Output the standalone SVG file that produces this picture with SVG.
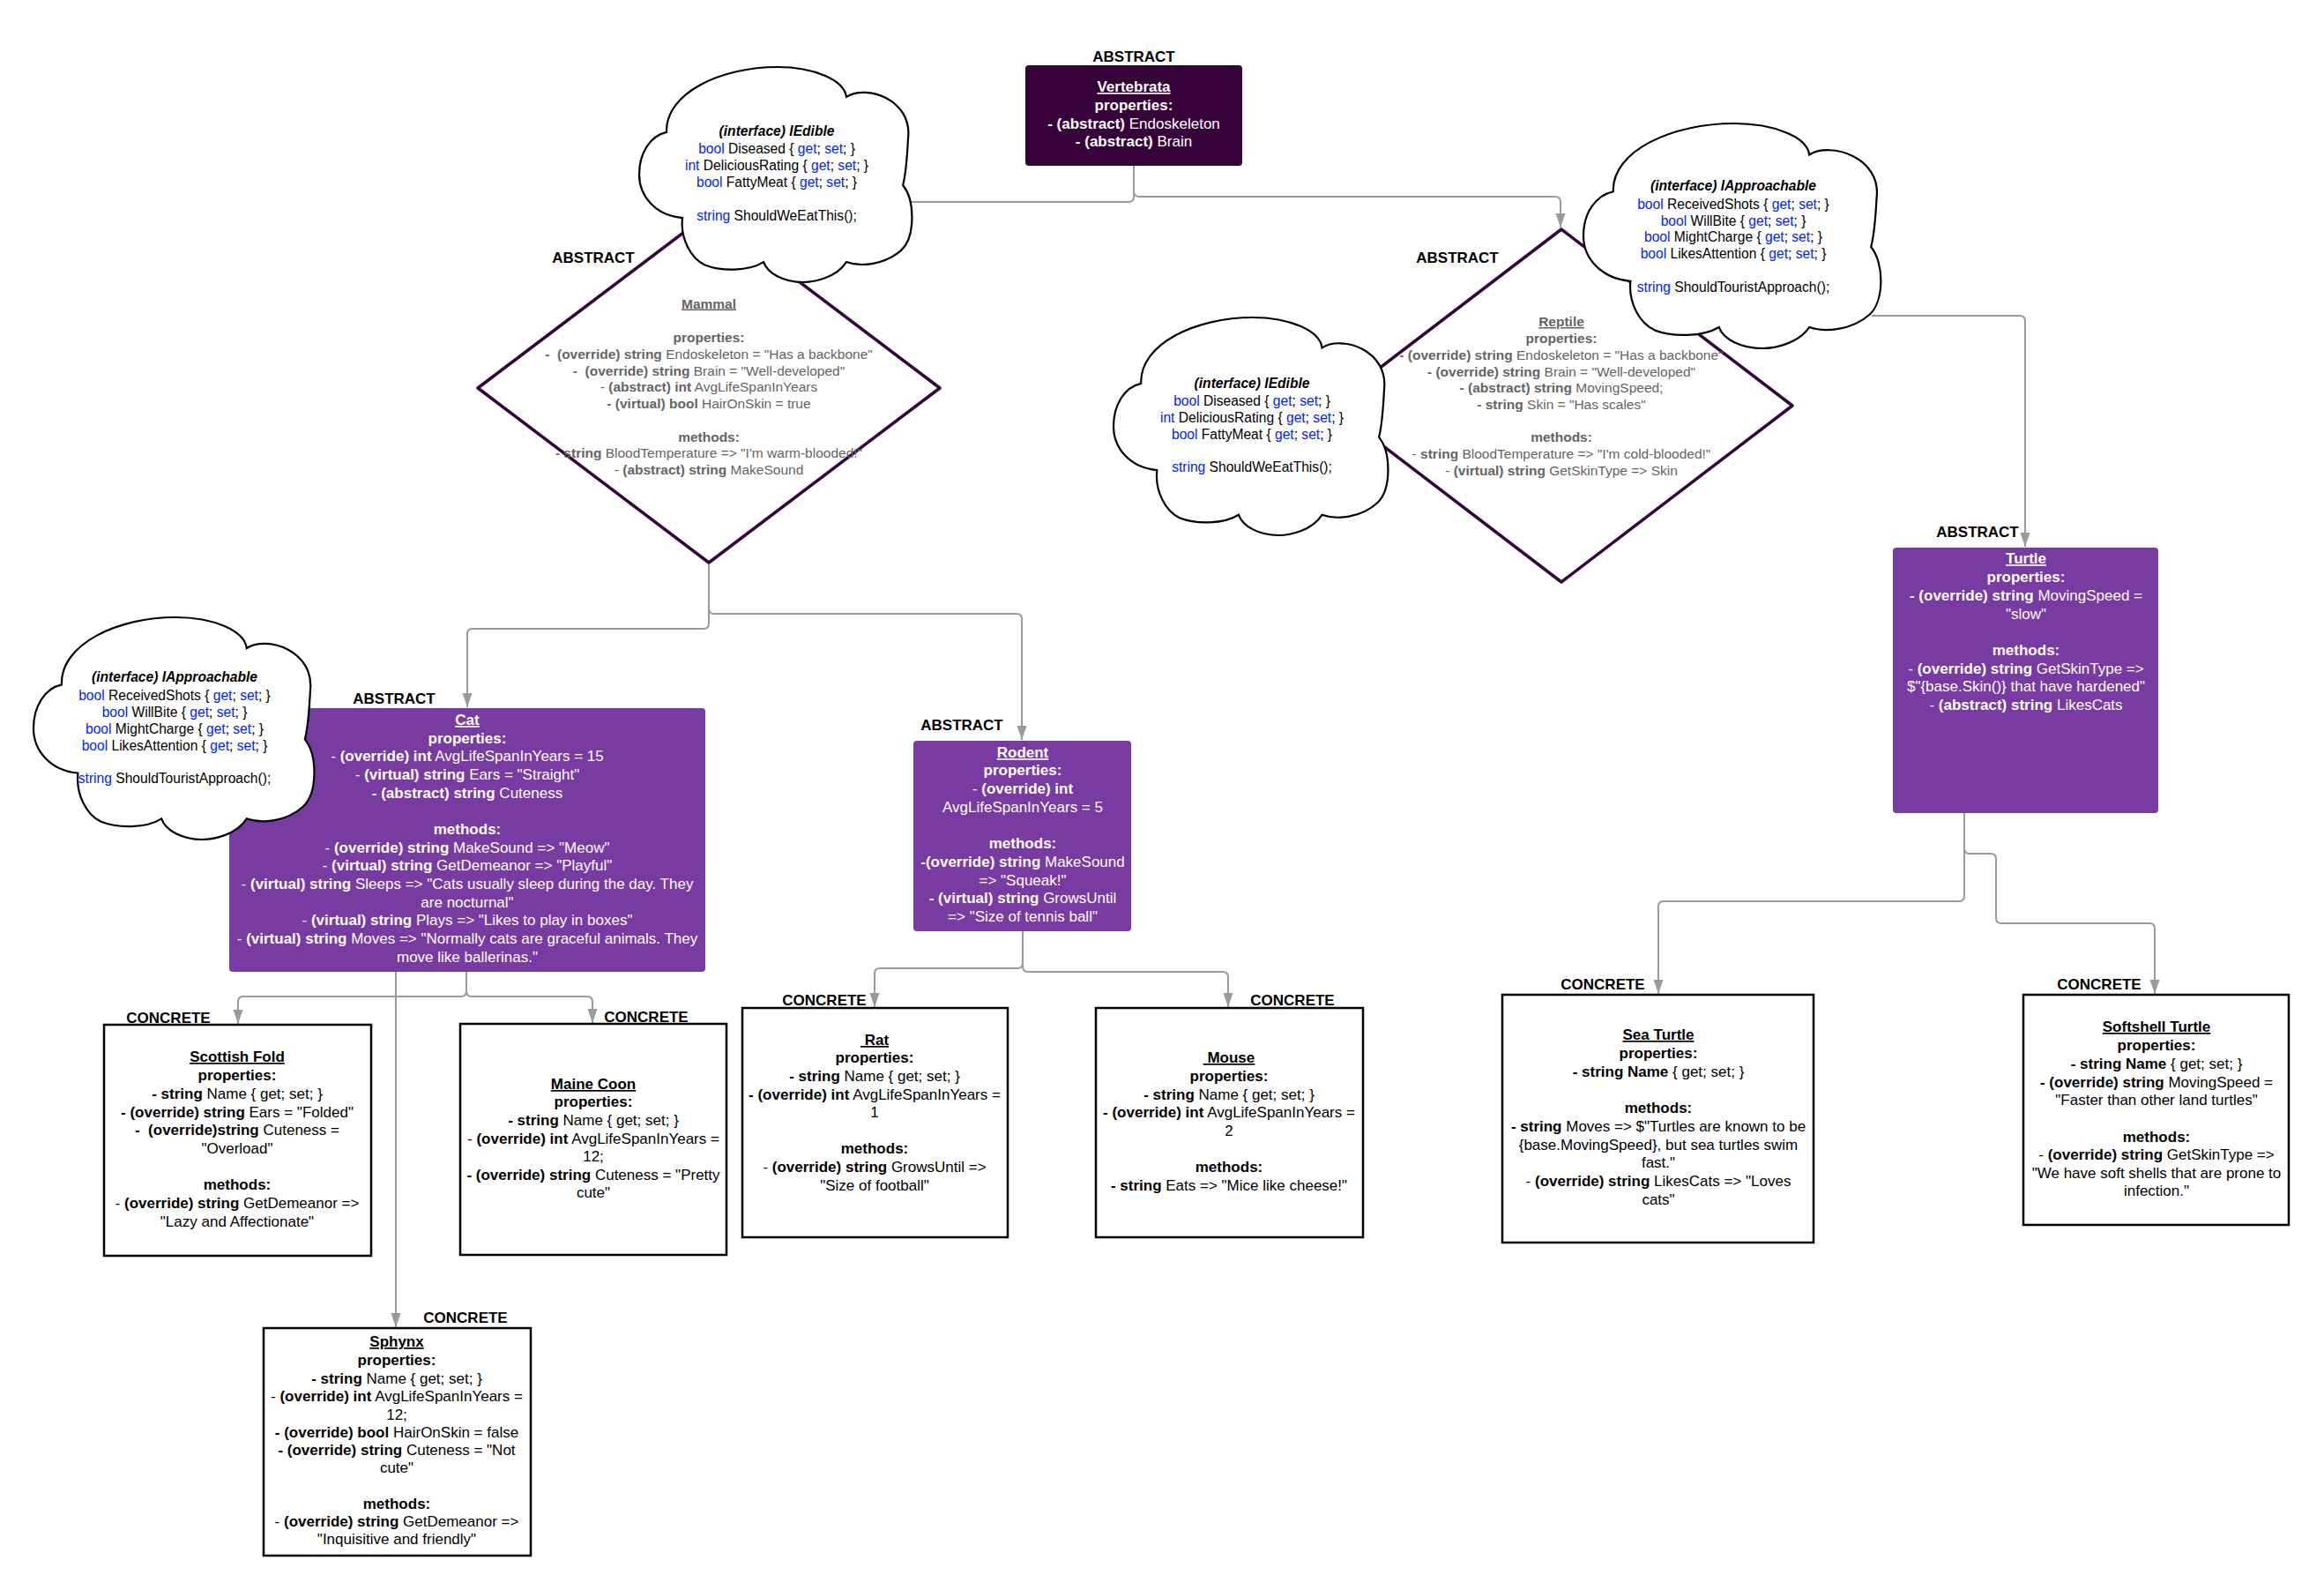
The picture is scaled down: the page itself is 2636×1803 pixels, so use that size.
<svg xmlns="http://www.w3.org/2000/svg" width="2636" height="1803" viewBox="0 0 2636 1803">
  <style>
    text { font-family: 'Liberation Sans', Arial, sans-serif; text-anchor: middle; white-space: pre; }
    .s17 { font-size: 17px; }
    .s15 { font-size: 15.5px; }
    .s16 { font-size: 15.6px; }
    .b { font-weight: bold; }
    .i { font-style: italic; }
    .u { text-decoration: underline; }
    .w { fill: #ffffff; }
    .k { fill: #000000; }
    .g { fill: #646464; }
    .bl { fill: #0022ff; }
    .lbl { font-size: 17px; font-weight: bold; fill: #000; }
    .diamond { fill: #ffffff; stroke: #33063a; stroke-width: 3.5; stroke-linejoin: round; }
    .abox { fill: #773ba2; }
    .cbox { fill: #ffffff; stroke: #000; stroke-width: 2.5; }
    .cloud { fill: #ffffff; stroke: #000; stroke-width: 2.2; }
    .conn { fill: none; stroke: #9a9a9a; stroke-width: 2; marker-end: url(#arrow); }
    .conn0 { fill: none; stroke: #9a9a9a; stroke-width: 2; }
  </style>
  <defs>
    <marker id="arrow" markerUnits="userSpaceOnUse" markerWidth="16" markerHeight="12" refX="16" refY="6" orient="auto">
      <path d="M0,0.5 L16,6 L0,11.5 Z" fill="#9a9a9a"/>
    </marker>
    <!-- cloud outline in a 1000x1000 box, scaled per node -->
    <path id="cloudShape" vector-effect="non-scaling-stroke" d="M100,303 C95,120 300,0 506,0 C640,0 750,60 758,139 C830,80 1000,150 984,330 C980,430 975,500 965,549 C1010,620 1010,790 960,850 C900,920 810,930 758,906 C720,980 640,1000 600,1000 C530,1000 470,960 455,906 C400,950 300,950 240,920 C190,890 150,800 158,701 C60,690 0,600 0,500 C0,400 40,320 100,303 Z"/>
  </defs>
  <rect width="2636" height="1803" fill="#ffffff"/>

  <!-- abstract diamonds -->
  <g id="mammal">
    <polygon class="diamond" points="804,242 1066,440 804,638 542,440"/>
  </g>
  <g id="reptile">
    <polygon class="diamond" points="1771,260 2033,460 1771,660 1509,460"/>
  </g>

  <!-- connectors -->
  <g id="connectors">
    <path class="conn0" d="M1286,187 V223 Q1286,229 1280,229 H810 Q804,229 804,235 V242"/>
    <path class="conn" d="M1286,187 V217 Q1286,223 1292,223 H1764 Q1770,223 1770,229 V258"/>
    <path class="conn" d="M804,640 V707 Q804,713 798,713 H536 Q530,713 530,719 V802"/>
    <path class="conn" d="M804,640 V690 Q804,696 810,696 H1153 Q1159,696 1159,702 V839"/>
    <path class="conn" d="M2123,358 H2291 Q2297,358 2297,364 V620"/>
    <path class="conn" d="M529,1102 V1124 Q529,1130 523,1130 H276 Q270,1130 270,1136 V1161"/>
    <path class="conn" d="M529,1102 V1124 Q529,1130 535,1130 H666 Q672,1130 672,1136 V1160"/>
    <path class="conn" d="M449,1102 V1505"/>
    <path class="conn" d="M1160,1056 V1092 Q1160,1098 1154,1098 H998 Q992,1098 992,1104 V1142"/>
    <path class="conn" d="M1160,1056 V1096 Q1160,1102 1166,1102 H1387 Q1393,1102 1393,1108 V1142"/>
    <path class="conn" d="M2228,922 V1016 Q2228,1022 2222,1022 H1887 Q1881,1022 1881,1028 V1127"/>
    <path class="conn" d="M2228,922 V962 Q2228,968 2234,968 H2258 Q2264,968 2264,974 V1041 Q2264,1047 2270,1047 H2438 Q2444,1047 2444,1053 V1127"/>
  </g>

  <!-- diamond texts -->
  <g id="mammal-text" class="s15 g">
    <text x="804" y="349.5" class="b u">Mammal</text>
    <text x="804" y="387.5" class="b">properties:</text>
    <text x="804" y="406.5"><tspan class="b">-  (override) string</tspan> Endoskeleton = "Has a backbone"</text>
    <text x="804" y="425.5"><tspan class="b">-  (override) string</tspan> Brain = "Well-developed"</text>
    <text x="804" y="443.5">- <tspan class="b">(abstract) int</tspan> AvgLifeSpanInYears</text>
    <text x="804" y="462.5"><tspan class="b">- (virtual) bool</tspan> HairOnSkin = true</text>
    <text x="804" y="500.5" class="b">methods:</text>
    <text x="804" y="518.5"><tspan class="b">- string</tspan> BloodTemperature =&gt; "I'm warm-blooded!"</text>
    <text x="804" y="537.5">- <tspan class="b">(abstract) string</tspan> MakeSound</text>
  </g>
  <g id="reptile-text" class="s15 g">
    <text x="1771" y="370" class="b u">Reptile</text>
    <text x="1771" y="389" class="b">properties:</text>
    <text x="1771" y="408"><tspan class="b">- (override) string</tspan> Endoskeleton = "Has a backbone"</text>
    <text x="1771" y="426.5"><tspan class="b">- (override) string</tspan> Brain = "Well-developed"</text>
    <text x="1771" y="445"><tspan class="b">- (abstract) string</tspan> MovingSpeed;</text>
    <text x="1771" y="464"><tspan class="b">- string</tspan> Skin = "Has scales"</text>
    <text x="1771" y="501" class="b">methods:</text>
    <text x="1771" y="520">- <tspan class="b">string</tspan> BloodTemperature =&gt; "I'm cold-blooded!"</text>
    <text x="1771" y="538.5">- <tspan class="b">(virtual) string</tspan> GetSkinType =&gt; Skin</text>
  </g>

  <!-- Vertebrata -->
  <g id="vertebrata" class="s17 w">
    <rect x="1163" y="74" width="246" height="114" rx="4" fill="#360038"/>
    <text x="1286" y="104" class="b u">Vertebrata</text>
    <text x="1286" y="125" class="b">properties:</text>
    <text x="1286" y="146"><tspan class="b">- (abstract)</tspan> Endoskeleton</text>
    <text x="1286" y="166"><tspan class="b">- (abstract)</tspan> Brain</text>
  </g>

  <!-- Cat -->
  <g id="cat" class="s17 w">
    <rect class="abox" x="260" y="803" width="540" height="299" rx="4"/>
    <text x="530" y="822" class="b u">Cat</text>
    <text x="530" y="843" class="b">properties:</text>
    <text x="530" y="863">- <tspan class="b">(override) int</tspan> AvgLifeSpanInYears = 15</text>
    <text x="530" y="884">- <tspan class="b">(virtual) string</tspan> Ears = "Straight"</text>
    <text x="530" y="905"><tspan class="b">- (abstract) string</tspan> Cuteness</text>
    <text x="530" y="946" class="b">methods:</text>
    <text x="530" y="967">- <tspan class="b">(override) string</tspan> MakeSound =&gt; "Meow"</text>
    <text x="530" y="987">- <tspan class="b">(virtual) string</tspan> GetDemeanor =&gt; "Playful"</text>
    <text x="530" y="1008">- <tspan class="b">(virtual) string</tspan> Sleeps =&gt; "Cats usually sleep during the day. They</text>
    <text x="530" y="1029">are nocturnal"</text>
    <text x="530" y="1049">- <tspan class="b">(virtual) string</tspan> Plays =&gt; "Likes to play in boxes"</text>
    <text x="530" y="1070">- <tspan class="b">(virtual) string</tspan> Moves =&gt; "Normally cats are graceful animals. They</text>
    <text x="530" y="1091">move like ballerinas."</text>
  </g>

  <!-- Rodent -->
  <g id="rodent" class="s17 w">
    <rect class="abox" x="1036" y="840" width="247" height="216" rx="4"/>
    <text x="1160" y="859" class="b u">Rodent</text>
    <text x="1160" y="879" class="b">properties:</text>
    <text x="1160" y="900">- <tspan class="b">(override) int</tspan></text>
    <text x="1160" y="921">AvgLifeSpanInYears = 5</text>
    <text x="1160" y="962" class="b">methods:</text>
    <text x="1160" y="983"><tspan class="b">-(override) string</tspan> MakeSound</text>
    <text x="1160" y="1004">=&gt; "Squeak!"</text>
    <text x="1160" y="1024"><tspan class="b">- (virtual) string</tspan> GrowsUntil</text>
    <text x="1160" y="1045">=&gt; "Size of tennis ball"</text>
  </g>

  <!-- Turtle -->
  <g id="turtle" class="s17 w">
    <rect class="abox" x="2147" y="621" width="301" height="301" rx="4"/>
    <text x="2298" y="639" class="b u">Turtle</text>
    <text x="2298" y="660" class="b">properties:</text>
    <text x="2298" y="681"><tspan class="b">- (override) string</tspan> MovingSpeed =</text>
    <text x="2298" y="702">"slow"</text>
    <text x="2298" y="743" class="b">methods:</text>
    <text x="2298" y="764">- <tspan class="b">(override) string</tspan> GetSkinType =&gt;</text>
    <text x="2298" y="784">$"{base.Skin()} that have hardened"</text>
    <text x="2298" y="805">- <tspan class="b">(abstract) string</tspan> LikesCats</text>
  </g>

  <!-- concrete classes -->
  <g id="scottish-fold" class="s17 k">
    <rect class="cbox" x="118" y="1162" width="303" height="262"/>
    <text x="269" y="1204" class="b u">Scottish Fold</text>
    <text x="269" y="1225" class="b">properties:</text>
    <text x="269" y="1246"><tspan class="b">- string</tspan> Name { get; set; }</text>
    <text x="269" y="1267"><tspan class="b">- (override) string</tspan> Ears = "Folded"</text>
    <text x="269" y="1287"><tspan class="b">-  (override)string</tspan> Cuteness =</text>
    <text x="269" y="1308">"Overload"</text>
    <text x="269" y="1349" class="b">methods:</text>
    <text x="269" y="1370">- <tspan class="b">(override) string</tspan> GetDemeanor =&gt;</text>
    <text x="269" y="1391">"Lazy and Affectionate"</text>
  </g>
  <g id="maine-coon" class="s17 k">
    <rect class="cbox" x="522" y="1161" width="302" height="262"/>
    <text x="673" y="1235" class="b u">Maine Coon</text>
    <text x="673" y="1255" class="b">properties:</text>
    <text x="673" y="1276"><tspan class="b">- string</tspan> Name { get; set; }</text>
    <text x="673" y="1297">- <tspan class="b">(override) int</tspan> AvgLifeSpanInYears =</text>
    <text x="673" y="1317">12;</text>
    <text x="673" y="1338"><tspan class="b">- (override) string</tspan> Cuteness = "Pretty</text>
    <text x="673" y="1358">cute"</text>
  </g>
  <g id="sphynx" class="s17 k">
    <rect class="cbox" x="299" y="1506" width="303" height="258"/>
    <text x="450" y="1527" class="b u">Sphynx</text>
    <text x="450" y="1548" class="b">properties:</text>
    <text x="450" y="1569"><tspan class="b">- string</tspan> Name { get; set; }</text>
    <text x="450" y="1589">- <tspan class="b">(override) int</tspan> AvgLifeSpanInYears =</text>
    <text x="450" y="1610">12;</text>
    <text x="450" y="1630"><tspan class="b">- (override) bool</tspan> HairOnSkin = false</text>
    <text x="450" y="1650"><tspan class="b">- (override) string</tspan> Cuteness = "Not</text>
    <text x="450" y="1670">cute"</text>
    <text x="450" y="1711" class="b">methods:</text>
    <text x="450" y="1731">- <tspan class="b">(override) string</tspan> GetDemeanor =&gt;</text>
    <text x="450" y="1751">"Inquisitive and friendly"</text>
  </g>
  <g id="rat" class="s17 k">
    <rect class="cbox" x="842" y="1143" width="301" height="260"/>
    <text x="992" y="1185" class="b u"> Rat</text>
    <text x="992" y="1205" class="b">properties:</text>
    <text x="992" y="1226"><tspan class="b">- string</tspan> Name { get; set; }</text>
    <text x="992" y="1247"><tspan class="b">- (override) int</tspan> AvgLifeSpanInYears =</text>
    <text x="992" y="1267">1</text>
    <text x="992" y="1308" class="b">methods:</text>
    <text x="992" y="1329">- <tspan class="b">(override) string</tspan> GrowsUntil =&gt;</text>
    <text x="992" y="1350">"Size of football"</text>
  </g>
  <g id="mouse" class="s17 k">
    <rect class="cbox" x="1243" y="1143" width="303" height="260"/>
    <text x="1394" y="1205" class="b u"> Mouse</text>
    <text x="1394" y="1226" class="b">properties:</text>
    <text x="1394" y="1247"><tspan class="b">- string</tspan> Name { get; set; }</text>
    <text x="1394" y="1267"><tspan class="b">- (override) int</tspan> AvgLifeSpanInYears =</text>
    <text x="1394" y="1288">2</text>
    <text x="1394" y="1329" class="b">methods:</text>
    <text x="1394" y="1350"><tspan class="b">- string</tspan> Eats =&gt; "Mice like cheese!"</text>
  </g>
  <g id="sea-turtle" class="s17 k">
    <rect class="cbox" x="1704" y="1128" width="353" height="281"/>
    <text x="1881" y="1179" class="b u">Sea Turtle</text>
    <text x="1881" y="1200" class="b">properties:</text>
    <text x="1881" y="1221"><tspan class="b">- string Name</tspan> { get; set; }</text>
    <text x="1881" y="1262" class="b">methods:</text>
    <text x="1881" y="1283"><tspan class="b">- string</tspan> Moves =&gt; $"Turtles are known to be</text>
    <text x="1881" y="1304">{base.MovingSpeed}, but sea turtles swim</text>
    <text x="1881" y="1324">fast."</text>
    <text x="1881" y="1345">- <tspan class="b">(override) string</tspan> LikesCats =&gt; "Loves</text>
    <text x="1881" y="1366">cats"</text>
  </g>
  <g id="softshell-turtle" class="s17 k">
    <rect class="cbox" x="2295" y="1128" width="301" height="261"/>
    <text x="2446" y="1170" class="b u">Softshell Turtle</text>
    <text x="2446" y="1191" class="b">properties:</text>
    <text x="2446" y="1212"><tspan class="b">- string Name</tspan> { get; set; }</text>
    <text x="2446" y="1233"><tspan class="b">- (override) string</tspan> MovingSpeed =</text>
    <text x="2446" y="1253">"Faster than other land turtles"</text>
    <text x="2446" y="1295" class="b">methods:</text>
    <text x="2446" y="1315">- <tspan class="b">(override) string</tspan> GetSkinType =&gt;</text>
    <text x="2446" y="1336">"We have soft shells that are prone to</text>
    <text x="2446" y="1356">infection."</text>
  </g>

  <!-- interface clouds -->
  <g id="iedible-mammal" class="s16 k">
    <use href="#cloudShape" class="cloud" transform="translate(725,76) scale(0.31,0.244)"/>
    <text x="881" y="153.5" class="b i">(interface) IEdible</text>
    <text x="881" y="173.5"><tspan class="bl">bool</tspan> Diseased { <tspan class="bl">get</tspan>; <tspan class="bl">set</tspan>; }</text>
    <text x="881" y="192.5"><tspan class="bl">int</tspan> DeliciousRating { <tspan class="bl">get</tspan>; <tspan class="bl">set</tspan>; }</text>
    <text x="881" y="211.5"><tspan class="bl">bool</tspan> FattyMeat { <tspan class="bl">get</tspan>; <tspan class="bl">set</tspan>; }</text>
    <text x="881" y="249.5"><tspan class="bl">string</tspan> ShouldWeEatThis();</text>
  </g>
  <g id="iedible-reptile" class="s16 k">
    <use href="#cloudShape" class="cloud" transform="translate(1263,360) scale(0.312,0.247)"/>
    <text x="1420" y="439.5" class="b i">(interface) IEdible</text>
    <text x="1420" y="459.5"><tspan class="bl">bool</tspan> Diseased { <tspan class="bl">get</tspan>; <tspan class="bl">set</tspan>; }</text>
    <text x="1420" y="478.5"><tspan class="bl">int</tspan> DeliciousRating { <tspan class="bl">get</tspan>; <tspan class="bl">set</tspan>; }</text>
    <text x="1420" y="497.5"><tspan class="bl">bool</tspan> FattyMeat { <tspan class="bl">get</tspan>; <tspan class="bl">set</tspan>; }</text>
    <text x="1420" y="534.5"><tspan class="bl">string</tspan> ShouldWeEatThis();</text>
  </g>
  <g id="iapproachable-turtle" class="s16 k">
    <use href="#cloudShape" class="cloud" transform="translate(1796,140) scale(0.338,0.255)"/>
    <text x="1966" y="215.5" class="b i">(interface) IApproachable</text>
    <text x="1966" y="236.5"><tspan class="bl">bool</tspan> ReceivedShots { <tspan class="bl">get</tspan>; <tspan class="bl">set</tspan>; }</text>
    <text x="1966" y="255.5"><tspan class="bl">bool</tspan> WillBite { <tspan class="bl">get</tspan>; <tspan class="bl">set</tspan>; }</text>
    <text x="1966" y="273.5"><tspan class="bl">bool</tspan> MightCharge { <tspan class="bl">get</tspan>; <tspan class="bl">set</tspan>; }</text>
    <text x="1966" y="292.5"><tspan class="bl">bool</tspan> LikesAttention { <tspan class="bl">get</tspan>; <tspan class="bl">set</tspan>; }</text>
    <text x="1966" y="330.5"><tspan class="bl">string</tspan> ShouldTouristApproach();</text>
  </g>
  <g id="iapproachable-cat" class="s16 k">
    <use href="#cloudShape" class="cloud" transform="translate(38,700) scale(0.319,0.252)"/>
    <text x="198" y="772.5" class="b i">(interface) IApproachable</text>
    <text x="198" y="793.5"><tspan class="bl">bool</tspan> ReceivedShots { <tspan class="bl">get</tspan>; <tspan class="bl">set</tspan>; }</text>
    <text x="198" y="812.5"><tspan class="bl">bool</tspan> WillBite { <tspan class="bl">get</tspan>; <tspan class="bl">set</tspan>; }</text>
    <text x="198" y="831.5"><tspan class="bl">bool</tspan> MightCharge { <tspan class="bl">get</tspan>; <tspan class="bl">set</tspan>; }</text>
    <text x="198" y="850.5"><tspan class="bl">bool</tspan> LikesAttention { <tspan class="bl">get</tspan>; <tspan class="bl">set</tspan>; }</text>
    <text x="198" y="887.5"><tspan class="bl">string</tspan> ShouldTouristApproach();</text>
  </g>

  <!-- stereotype labels -->
  <g id="labels">
    <text class="lbl" x="1286" y="70">ABSTRACT</text>
    <text class="lbl" x="673" y="298">ABSTRACT</text>
    <text class="lbl" x="1653" y="298">ABSTRACT</text>
    <text class="lbl" x="447" y="798">ABSTRACT</text>
    <text class="lbl" x="1091" y="828">ABSTRACT</text>
    <text class="lbl" x="2243" y="609">ABSTRACT</text>
    <text class="lbl" x="191" y="1160">CONCRETE</text>
    <text class="lbl" x="733" y="1159">CONCRETE</text>
    <text class="lbl" x="528" y="1500">CONCRETE</text>
    <text class="lbl" x="935" y="1140">CONCRETE</text>
    <text class="lbl" x="1466" y="1140">CONCRETE</text>
    <text class="lbl" x="1818" y="1122">CONCRETE</text>
    <text class="lbl" x="2381" y="1122">CONCRETE</text>
  </g>
</svg>
